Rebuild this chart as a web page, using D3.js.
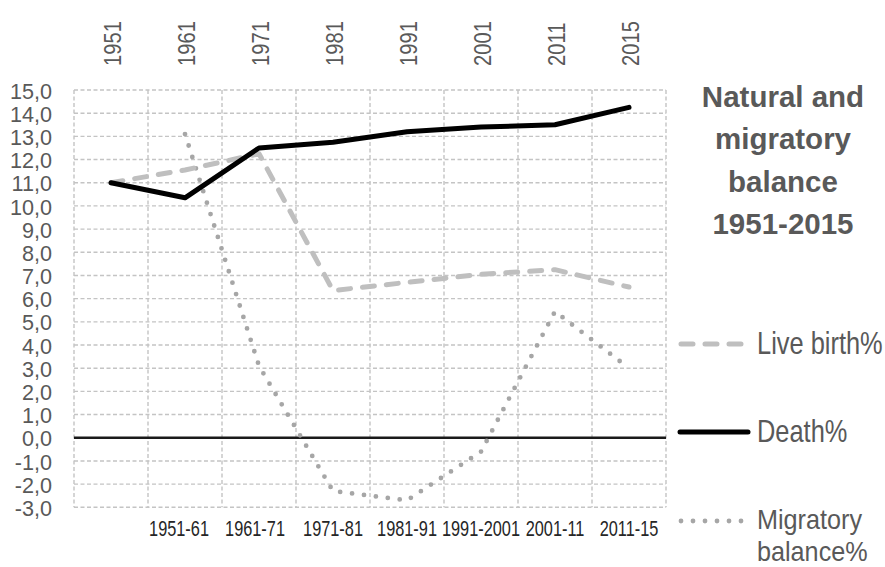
<!DOCTYPE html>
<html>
<head>
<meta charset="utf-8">
<script src="https://cdn.jsdelivr.net/npm/d3@7"></script>
<style>
  html, body { margin: 0; padding: 0; background: #ffffff; }
  svg { display: block; }
  text { font-family: 'Liberation Sans', Arial, sans-serif; }
</style>
</head>
<body>
<svg id="chart" width="885" height="567"></svg>
<script>
// ---- data ----
const years = ["1951", "1961", "1971", "1981", "1991", "2001", "2011", "2015"];
const periods = ["", "1951-61", "1961-71", "1971-81", "1981-91", "1991-2001", "2001-11", "2011-15"];
const liveBirth = [11.0, 11.55, 12.25, 6.35, 6.7, 7.05, 7.25, 6.5];
const death = [11.0, 10.35, 12.5, 12.75, 13.2, 13.4, 13.5, 14.25];
const migratory = [null, 13.1, 3.1, -2.3, -2.7, -0.6, 5.45, 3.0];
const yTicks = [-3, -2, -1, 0, 1, 2, 3, 4, 5, 6, 7, 8, 9, 10, 11, 12, 13, 14, 15];
const titleLines = ["Natural and", "migratory", "balance", "1951-2015"];
const legendItems = [
  { key: "live", label: ["Live birth%"] },
  { key: "death", label: ["Death%"] },
  { key: "mig", label: ["Migratory", "balance%"] }
];

// ---- layout ----
const svg = d3.select("#chart");
const pLeft = 74, pRight = 666, pTop = 90, pBottom = 507.3;

const x = d3.scaleBand().domain(years).range([pLeft, pRight]).paddingInner(0).paddingOuter(0);
const cx = d => x(d) + x.bandwidth() / 2;
const y = d3.scaleLinear().domain([-3, 15]).range([pBottom, pTop]);

const styles = {
  live: { stroke: "#bfbfbf", width: 5, dash: "12,12", cap: "round" },
  death: { stroke: "#000000", width: 5, dash: null, cap: "round" },
  mig: { stroke: "#a6a6a6", width: 4.8, dash: "0,12", cap: "round" }
};

// ---- grid ----
const grid = svg.append("g");
grid.selectAll("line.h").data(yTicks.filter(v => v !== 0)).join("line")
  .attr("x1", pLeft).attr("x2", pRight)
  .attr("y1", d => y(d)).attr("y2", d => y(d))
  .attr("stroke", "#c4c4c4").attr("stroke-width", 1.4).attr("stroke-dasharray", "4,2.5");
const vBounds = years.map(d => x(d)).concat([pRight]);
grid.selectAll("line.v").data(vBounds).join("line")
  .attr("x1", d => d).attr("x2", d => d)
  .attr("y1", pTop).attr("y2", pBottom)
  .attr("stroke", "#c4c4c4").attr("stroke-width", 1.4).attr("stroke-dasharray", "4,2.5");

// ---- y axis labels (narrow look via horizontal scale) ----
const yAxis = d3.axisLeft(y).tickValues(yTicks).tickSize(0).tickPadding(0)
  .tickFormat(d => d.toFixed(1).replace(".", ","));
const yg = svg.append("g").attr("transform", `translate(${pLeft},0)`).call(yAxis);
yg.select(".domain").remove();
yg.attr("font-family", null).attr("font-size", null);
yg.selectAll("text").attr("font-size", 22.5).attr("fill", "#595959")
  .attr("x", 0).attr("dy", "0.36em").attr("text-anchor", "end")
  .attr("transform", "translate(-22,0) scale(0.96,1)");

// ---- top axis (years, rotated) ----
const topAxis = d3.axisTop(x).tickSize(0).tickPadding(0);
const tg = svg.append("g").attr("transform", "translate(0,66)").call(topAxis);
tg.select(".domain").remove();
tg.attr("font-family", null).attr("font-size", null);
tg.selectAll(".tick").attr("transform", d => `translate(${cx(d) + 1},0)`);
tg.selectAll("text").attr("font-size", 24.6).attr("fill", "#595959")
  .attr("text-anchor", "start").attr("x", 0).attr("y", 0).attr("dy", "0.36em")
  .attr("transform", "rotate(-90) scale(0.82,1)");

// ---- bottom axis (periods) ----
const bottomAxis = d3.axisBottom(x).tickSize(0).tickPadding(0)
  .tickFormat((d, i) => periods[i]);
const bg = svg.append("g").attr("transform", "translate(0,528)").call(bottomAxis);
bg.select(".domain").remove();
bg.attr("font-family", null).attr("font-size", null);
bg.selectAll(".tick").attr("transform", (d, i) => `translate(${cx(d) - (i === 1 ? 6 : i === 2 ? 4 : 0)},0)`);
bg.selectAll("text").attr("font-size", 21.5).attr("fill", "#262626")
  .attr("x", 0).attr("y", 0).attr("dy", "0.36em")
  .attr("transform", "scale(0.76,1)");

// ---- zero line ----
svg.append("line")
  .attr("x1", pLeft).attr("x2", pRight).attr("y1", y(0)).attr("y2", y(0))
  .attr("stroke", "#1a1a1a").attr("stroke-width", 2.4);

// ---- series ----
function series(values, st) {
  const pts = years.map((d, i) => [cx(d), values[i]]).filter(p => p[1] !== null);
  const line = d3.line().x(p => p[0]).y(p => y(p[1]));
  const p = svg.append("path").datum(pts)
    .attr("d", line).attr("fill", "none")
    .attr("stroke", st.stroke).attr("stroke-width", st.width)
    .attr("stroke-linecap", st.cap).attr("stroke-linejoin", "round");
  if (st.dash) p.attr("stroke-dasharray", st.dash);
}
series(migratory, styles.mig);
series(liveBirth, styles.live);
series(death, styles.death);

// ---- title ----
svg.append("g").selectAll("text").data(titleLines).join("text")
  .attr("font-weight", "bold").attr("font-size", 29.5).attr("fill", "#595959")
  .attr("text-anchor", "middle")
  .attr("x", 783).attr("y", (d, i) => 106.5 + i * 42.5).text(d => d);

// ---- legend ----
const legendY = [344, 432, 521];
const lg = svg.append("g");
legendItems.forEach((item, i) => {
  const st = styles[item.key];
  const ln = lg.append("line")
    .attr("x1", item.key === "death" ? 680 : 681).attr("x2", item.key === "death" ? 748 : 742)
    .attr("y1", legendY[i]).attr("y2", legendY[i])
    .attr("stroke", st.stroke).attr("stroke-width", st.width).attr("stroke-linecap", st.cap);
  if (st.dash) ln.attr("stroke-dasharray", st.dash);
  const multi = item.label.length > 1;
  const t = lg.append("text")
    .attr("font-size", multi ? 28 : 31).attr("fill", "#595959")
    .attr("transform", `translate(757,${legendY[i] + (multi ? 8 : 10)}) scale(${multi ? 0.9 : 0.82},1)`);
  t.selectAll("tspan").data(item.label).join("tspan")
    .attr("x", 0).attr("y", (d, j) => j * 32)
    .text(d => d);
});
</script>
</body>
</html>
